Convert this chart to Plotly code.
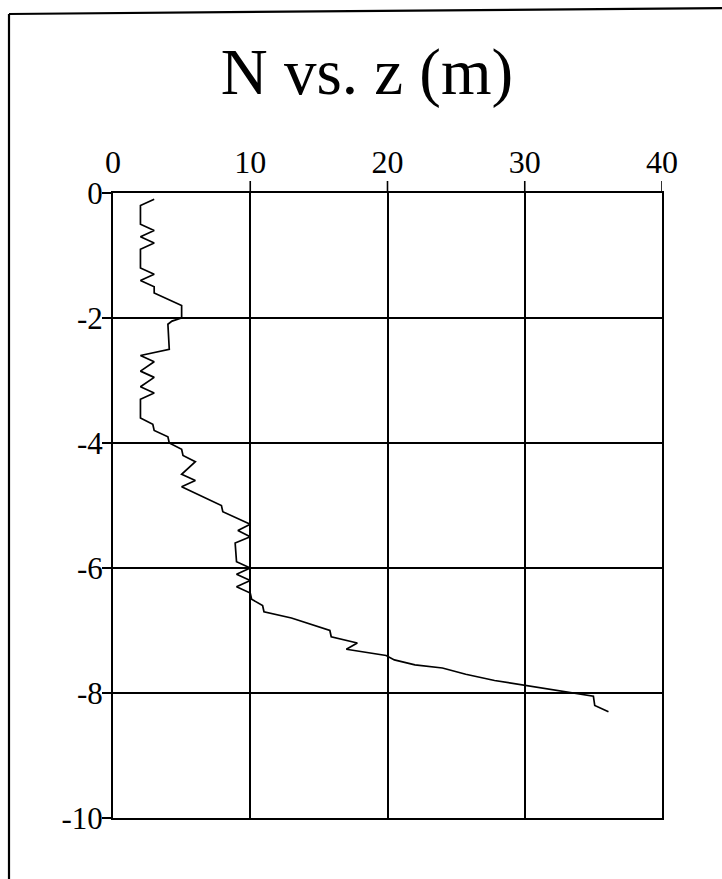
import plotly.graph_objects as go

# Blow count N against depth z (m)
depth_m = [
    -0.1, -0.2, -0.5, -0.6, -0.7, -0.8, -0.9, -1.2, -1.3, -1.4, -1.5, -1.6,
    -1.8, -2.0, -2.05, -2.1, -2.5, -2.6, -2.7, -2.85, -2.95, -3.1, -3.2, -3.3,
    -3.6, -3.7, -3.8, -3.9, -4.0, -4.1, -4.2, -4.3, -4.5, -4.6, -4.7, -5.0,
    -5.1, -5.3, -5.4, -5.5, -5.6, -5.9, -6.0, -6.1, -6.2, -6.3, -6.4, -6.5,
    -6.6, -6.7, -6.8, -6.85, -7.0, -7.1, -7.2, -7.3, -7.4, -7.47, -7.55, -7.6,
    -7.7, -7.8, -7.9, -8.0, -8.05, -8.2, -8.3,
]
n_value = [
    3, 2, 2, 3, 2, 3, 2, 2, 3, 2, 3, 3,
    5, 5, 4.3, 4.0, 4.1, 2, 3, 2, 3, 2, 3, 2,
    2, 2.9, 3.0, 4.0, 4.1, 5.0, 5.1, 6.0, 5.0, 6.0, 5.0, 7.9,
    8.0, 10, 9.1, 10, 8.9, 9.0, 10, 9.0, 10, 9.0, 10, 10.1,
    10.9, 11.0, 13.0, 13.7, 15.8, 15.9, 17.8, 17.0, 19.9, 20.5, 22.0, 24.0,
    25.7, 27.8, 30.7, 33.6, 35.0, 35.1, 36.1,
]

x_ticks = [0, 10, 20, 30, 40]
y_ticks = [0, -2, -4, -6, -8, -10]

W, H = 722, 879
L, R, T, B = 113, 60, 193, 61
plot_w = W - L - R
plot_h = H - T - B

serif = "Liberation Serif, Times New Roman, serif"

fig = go.Figure()
fig.add_trace(go.Scatter(
    x=n_value, y=depth_m, mode="lines",
    line=dict(color="black", width=1.7),
    showlegend=False, hoverinfo="skip",
))

shapes = []
# outward tick marks above the top axis
for xv in x_ticks[1:]:
    shapes.append(dict(type="line", xref="x", yref="paper",
                       x0=xv, x1=xv, y0=1, y1=1 + 12 / plot_h,
                       line=dict(color="black", width=1.6)))

# page frame: left and top edges
def px(xp):
    return (xp - L) / plot_w

def py(yp):
    return (H - B - yp) / plot_h

shapes.append(dict(type="line", xref="paper", yref="paper",
                   x0=px(9), x1=px(9), y0=py(14), y1=py(H + 5),
                   line=dict(color="black", width=2.2)))
shapes.append(dict(type="line", xref="paper", yref="paper",
                   x0=px(9), x1=px(W + 5), y0=py(14), y1=py(8),
                   line=dict(color="black", width=2.2)))

fig.update_layout(
    width=W, height=H,
    margin=dict(l=L, r=R, t=T, b=B, pad=0),
    paper_bgcolor="white", plot_bgcolor="white",
    title=dict(text="N vs. z (m)", x=367 / W, xanchor="center",
               y=1 - 71 / H, yanchor="middle",
               font=dict(family=serif, size=65, color="black")),
    font=dict(family=serif, color="black"),
    shapes=shapes,
)

fig.update_xaxes(
    range=[0, 40], side="top", tickvals=x_ticks,
    ticktext=[str(v) for v in x_ticks],
    ticks="", ticklabelstandoff=5,
    tickfont=dict(family=serif, size=32, color="black"),
    showgrid=True, gridcolor="black", gridwidth=1.5,
    showline=True, linecolor="black", linewidth=2, mirror=True,
    zeroline=False, fixedrange=True,
)
fig.update_yaxes(
    range=[-10, 0], tickvals=y_ticks,
    ticktext=[str(v) for v in y_ticks],
    ticks="outside", ticklen=9, tickwidth=1.6, tickcolor="black",
    ticklabelstandoff=-7,
    tickfont=dict(family=serif, size=31, color="black"),
    showgrid=True, gridcolor="black", gridwidth=1.5,
    showline=True, linecolor="black", linewidth=2, mirror=True,
    zeroline=False, fixedrange=True,
)

fig.write_html("out.html")
